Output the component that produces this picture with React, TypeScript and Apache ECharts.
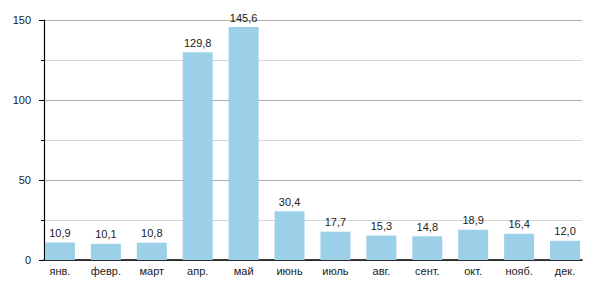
import React, { useEffect, useRef } from "react";
import * as echarts from "echarts";

const months = ["янв.", "февр.", "март", "апр.", "май", "июнь", "июль", "авг.", "сент.", "окт.", "нояб.", "дек."];
const values = [10.9, 10.1, 10.8, 129.8, 145.6, 30.4, 17.7, 15.3, 14.8, 18.9, 16.4, 12.0];
const yTicks = [0, 50, 100, 150];

export default function App() {
  const ref = useRef<HTMLDivElement>(null);
  useEffect(() => {
    if (!ref.current) return;
    const chart = echarts.init(ref.current, undefined, { renderer: "svg" });
    const font = "Liberation Sans, Arial, sans-serif";
    const yMin = yTicks[0];
    const yMax = yTicks[yTicks.length - 1];
    chart.setOption({
      animation: false,
      grid: [
        { left: 44, right: 18, top: 20, bottom: 40, containLabel: false },
        { left: 37, right: 12, top: 20, bottom: 40, containLabel: false },
      ],
      xAxis: [
        {
          type: "value",
          gridIndex: 0,
          min: 0,
          max: 1,
          axisLine: { show: true, onZero: false, lineStyle: { color: "#000", width: 1.5 } },
          axisTick: { show: false },
          axisLabel: { show: false },
          splitLine: { show: false },
        },
        {
          type: "category",
          gridIndex: 1,
          data: months,
          axisLine: { show: false },
          axisTick: { show: false },
          axisLabel: { color: "#222", fontFamily: font, fontSize: 11, margin: 5 },
        },
      ],
      yAxis: [
        {
          type: "value",
          gridIndex: 0,
          min: yMin,
          max: yMax,
          interval: 50,
          axisLine: { show: true, lineStyle: { color: "#000", width: 1.2 } },
          axisTick: { show: true, length: 5, lineStyle: { color: "#000" } },
          minorTick: { show: true, splitNumber: 2, length: 3, lineStyle: { color: "#000" } },
          axisLabel: { color: "#222", fontFamily: font, fontSize: 11, margin: 13 },
          splitLine: { show: true, lineStyle: { color: "#b0b0b0", width: 1 } },
          minorSplitLine: { show: true, lineStyle: { color: "#d4d4d4", width: 1 } },
        },
        {
          type: "value",
          gridIndex: 1,
          min: yMin,
          max: yMax,
          interval: 50,
          show: false,
          splitLine: { show: false },
        },
      ],
      series: [
        {
          type: "bar",
          xAxisIndex: 1,
          yAxisIndex: 1,
          data: values,
          barWidth: 30,
          itemStyle: { color: "#9ccfe8" },
          label: {
            show: true,
            position: "top",
            distance: 4,
            color: "#222",
            fontFamily: font,
            fontSize: 11,
            formatter: (p: any) => p.value.toFixed(1).replace(".", ","),
          },
        },
      ],
    });
    return () => chart.dispose();
  }, []);
  return <div ref={ref} style={{ position: "fixed", left: 0, top: 0, width: 600, height: 300, background: "#fff" }} />;
}
